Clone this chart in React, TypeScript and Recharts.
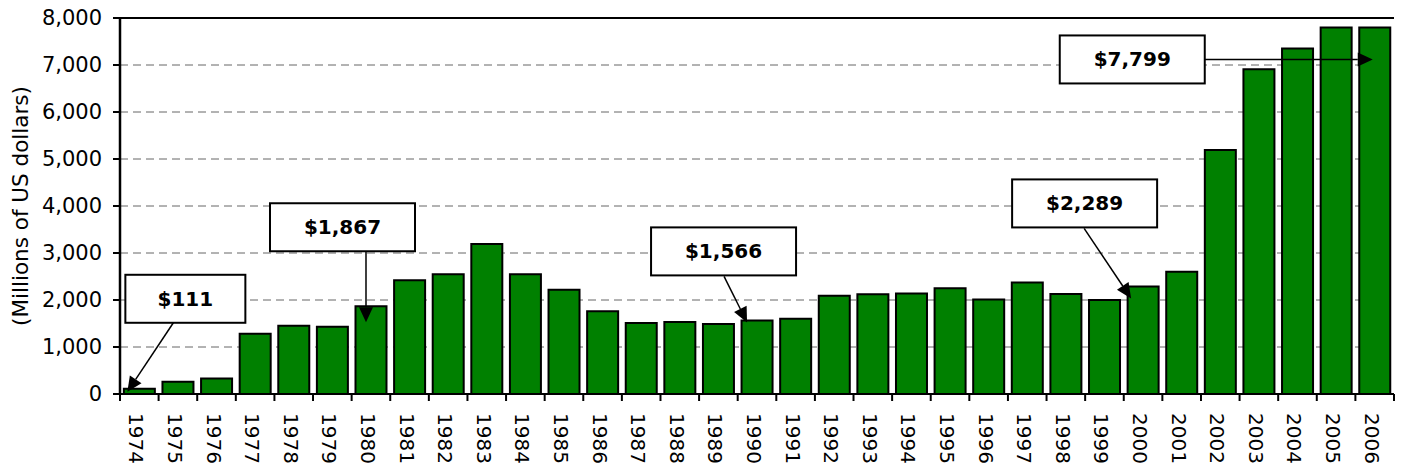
import React from 'react'
import {
  BarChart,
  Bar,
  XAxis,
  YAxis,
  CartesianGrid,
  LabelList,
  ReferenceLine,
} from 'recharts'

const years = [
  '1974', '1975', '1976', '1977', '1978', '1979', '1980', '1981', '1982',
  '1983', '1984', '1985', '1986', '1987', '1988', '1989', '1990', '1991',
  '1992', '1993', '1994', '1995', '1996', '1997', '1998', '1999', '2000',
  '2001', '2002', '2003', '2004', '2005', '2006',
]

// millions of US dollars
const flows = [
  111, 260, 330, 1280, 1450, 1430, 1867, 2420, 2550, 3190, 2550, 2220, 1760,
  1510, 1530, 1490, 1566, 1600, 2090, 2120, 2140, 2250, 2010, 2370, 2130, 2000,
  2289, 2600, 5190, 6910, 7350, 7800, 7799,
]

const yTicks = [0, 1000, 2000, 3000, 4000, 5000, 6000, 7000, 8000]

const calloutYears = ['1974', '1980', '1990', '2000', '2006']

const data = years.map((year, i) => ({ year, value: flows[i] }))

const W = 1403
const H = 468
const MARGIN = { top: 18, right: 9, bottom: 0, left: 0 }
const Y_AXIS_W = 120
const FONT = '"DejaVu Sans", Verdana, sans-serif'
const halfBand = (W - MARGIN.left - MARGIN.right - Y_AXIS_W) / years.length / 2

// box / arrow offsets relative to the top centre of the bar they point at
const calloutLayout: Record<
  string,
  { bx: number; by: number; bw: number; sx: number; sy: number; ex: number; ey: number }
> = {
  '1974': { bx: -14, by: -114, bw: 120, sx: 34, sy: -66, ex: -12, ey: 3 },
  '1980': { bx: -101, by: -103, bw: 145, sx: -5, sy: -55, ex: -5, ey: 16 },
  '1990': { bx: -106, by: -93, bw: 145, sx: -33, sy: -44, ex: -10, ey: 2 },
  '2000': { bx: -131, by: -107, bw: 145, sx: -59, sy: -58, ex: -12, ey: 12 },
  '2006': { bx: -315, by: 8, bw: 145, sx: -170, sy: 32, ex: -2, ey: 32 },
}

const renderCallout = (props: any) => {
  const vb = props.viewBox ?? props
  const year = String(props.value)
  if (!calloutYears.includes(year)) return null
  const c = calloutLayout[year]
  const v = flows[years.indexOf(year)]
  const cx = Number(vb.x) + Number(vb.width) / 2
  const top = Number(vb.y)
  const bx = cx + c.bx
  const by = top + c.by
  const sx = cx + c.sx
  const sy = top + c.sy
  const ex = cx + c.ex
  const ey = top + c.ey
  const len = Math.hypot(ex - sx, ey - sy)
  const ux = (ex - sx) / len
  const uy = (ey - sy) / len
  const hl = 15
  const hw = 7
  const baseX = ex - ux * hl
  const baseY = ey - uy * hl
  const head = `${ex},${ey} ${baseX - uy * hw},${baseY + ux * hw} ${baseX + uy * hw},${baseY - ux * hw}`
  return (
    <g key={`callout-${year}`}>
      <rect x={bx} y={by} width={c.bw} height={48} fill="#fff" stroke="#000" strokeWidth={2} />
      <text
        x={bx + c.bw / 2}
        y={by + 24}
        textAnchor="middle"
        dominantBaseline="central"
        fontFamily={FONT}
        fontWeight="bold"
        fontSize={20}
        fill="#000"
      >
        {`$${v.toLocaleString('en-US')}`}
      </text>
      <line x1={sx} y1={sy} x2={baseX} y2={baseY} stroke="#000" strokeWidth={1.5} />
      <polygon points={head} fill="#000" />
    </g>
  )
}

const YearTick = (props: any) => {
  const { x, y, payload, index } = props
  return (
    <g>
      <line x1={x - halfBand} x2={x - halfBand} y1={y} y2={y + 7} stroke="#000" strokeWidth={2} />
      {index === years.length - 1 && (
        <line x1={x + halfBand} x2={x + halfBand} y1={y} y2={y + 7} stroke="#000" strokeWidth={2} />
      )}
      <text
        transform={`translate(${x - 3},${y + 19}) rotate(90)`}
        textAnchor="start"
        dominantBaseline="central"
        fontFamily={FONT}
        fontSize={20}
        fill="#000"
      >
        {payload.value}
      </text>
    </g>
  )
}

const AxisTitle = (props: any) => {
  const vb = props.viewBox
  const cy = vb.y + vb.height / 2
  return (
    <text
      transform={`translate(${vb.x + 20},${cy}) rotate(-90)`}
      textAnchor="middle"
      dominantBaseline="central"
      fontFamily={FONT}
      fontSize={21.5}
      fill="#000"
    >
      (Millions of US dollars)
    </text>
  )
}

const App: React.FC = () => {
  return (
    <div style={{ position: 'absolute', left: 0, top: 0, width: W, height: H, background: '#fff' }}>
      <BarChart width={W} height={H} data={data} margin={MARGIN} barCategoryGap="10%">
        <CartesianGrid vertical={false} stroke="#666" strokeDasharray="8 5" />
        <XAxis
          dataKey="year"
          height={74}
          interval={0}
          tickSize={0}
          tickMargin={0}
          tickLine={false}
          axisLine={{ stroke: '#000', strokeWidth: 2 }}
          tick={<YearTick />}
        />
        <YAxis
          width={Y_AXIS_W}
          domain={[0, 8000]}
          ticks={yTicks}
          interval={0}
          tickSize={7}
          tickMargin={11}
          tickFormatter={(v: number) => v.toLocaleString('en-US')}
          tick={{ fill: '#000', fontSize: 21, fontFamily: FONT }}
          tickLine={{ stroke: '#000', strokeWidth: 2 }}
          axisLine={{ stroke: '#000', strokeWidth: 2.5 }}
          label={<AxisTitle />}
        />
        <YAxis
          yAxisId="right"
          orientation="right"
          width={0}
          domain={[0, 8000]}
          tick={false}
          tickLine={false}
          axisLine={{ stroke: '#404040', strokeWidth: 2.5 }}
        />
        <ReferenceLine y={8000} stroke="#000" strokeWidth={2} />
        <Bar dataKey="value" fill="#008000" stroke="#000" strokeWidth={2} isAnimationActive={false}>
          <LabelList dataKey="year" content={renderCallout} />
        </Bar>
      </BarChart>
    </div>
  )
}

export default App
